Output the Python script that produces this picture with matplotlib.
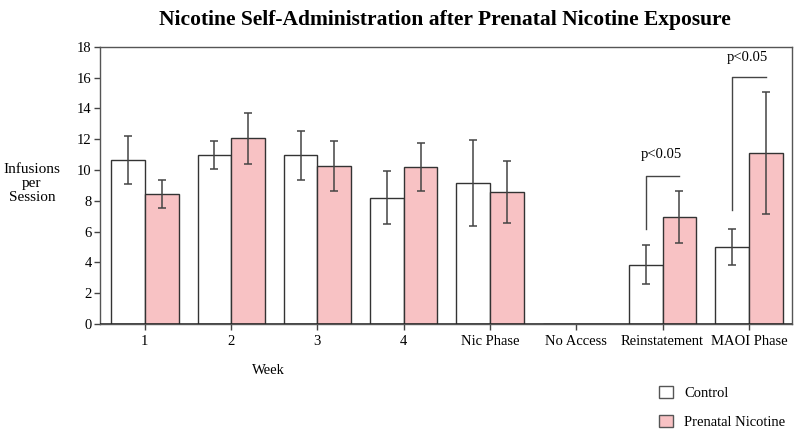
import numpy as np
import matplotlib.pyplot as plt
from matplotlib.patches import Patch

plt.rcParams['font.family'] = ['Liberation Serif', 'DejaVu Serif']

groups = ["1", "2", "3", "4", "Nic Phase", "No Access", "Reinstatement", "MAOI Phase"]
control = [10.65, 10.95, 10.95, 8.2, 9.15, 0, 3.85, 5.0]
control_err = [1.55, 0.9, 1.6, 1.73, 2.8, 0, 1.27, 1.18]
nicotine = [8.42, 12.05, 10.26, 10.17, 8.57, 0, 6.97, 11.1]
nicotine_err = [0.9, 1.65, 1.6, 1.55, 2.0, 0, 1.68, 3.95]

# significance brackets: (group index, left leg bottom, bar height, label y)
brackets = [(6, 6.2, 9.6, 10.6), (7, 7.4, 16.05, 16.9)]

fig = plt.figure(figsize=(8, 4.37), dpi=100)
ax = fig.add_axes([0.125, 0.2586, 0.865, 0.6344])

x = np.arange(len(groups))
w = 0.39
edge = '#333333'
ax.bar(x - w / 2, control, w, color='white', edgecolor=edge, linewidth=1.0, zorder=2)
ax.bar(x + w / 2, nicotine, w, color='#f8c2c4', edgecolor=edge, linewidth=1.0, zorder=2)

for xi, v, e in zip(x, control, control_err):
    if v > 0:
        ax.errorbar(xi - w / 2, v, yerr=e, fmt='none', ecolor='#444444',
                    elinewidth=1.1, capsize=3, capthick=1.1, zorder=3)
for xi, v, e in zip(x, nicotine, nicotine_err):
    if v > 0:
        ax.errorbar(xi + w / 2, v, yerr=e, fmt='none', ecolor='#444444',
                    elinewidth=1.1, capsize=3, capthick=1.1, zorder=3)

for gi, y0, y1, ty in brackets:
    xl = gi - w / 2
    xr = gi + w / 2
    ax.plot([xl, xl, xr], [y0, y1, y1], color='#444444', lw=1.0, zorder=3)
    ax.text(gi - 0.02, ty, "p<0.05", ha='center', va='bottom', fontsize=10.5)

ax.axhline(0, color='#222222', lw=1.8, zorder=4)
ax.set_xlim(-0.52, 7.5)
ax.set_ylim(0, 18)
ax.set_yticks(range(0, 19, 2))
ax.set_xticks(x)
ax.set_xticklabels(groups, fontsize=10.5)
ax.tick_params(axis='y', labelsize=10.5, length=4, width=1, color='#444444', pad=2)
ax.tick_params(axis='x', length=4, width=1, color='#444444', pad=4)
for s in ax.spines.values():
    s.set_color('#555555')
    s.set_linewidth(1.0)

fig.text(0.556, 0.955, "Nicotine Self-Administration after Prenatal Nicotine Exposure",
         ha='center', va='center', fontsize=15.5, fontweight='bold')
fig.text(0.04, 0.58, "Infusions\nper\nSession", ha='center', va='center',
         fontsize=11, linespacing=1.1)
fig.text(0.335, 0.153, "Week", ha='center', va='center', fontsize=10.5)

handles = [Patch(facecolor='white', edgecolor='#555555', label='Control'),
           Patch(facecolor='#f8c2c4', edgecolor='#555555', label='Prenatal Nicotine')]
fig.legend(handles=handles, loc='upper left', bbox_to_anchor=(0.817, 0.13),
           frameon=False, fontsize=10.5, handlelength=0.9, handleheight=0.9,
           labelspacing=1.0, handletextpad=0.8, borderaxespad=0)

fig.savefig("out.png", dpi=100)
